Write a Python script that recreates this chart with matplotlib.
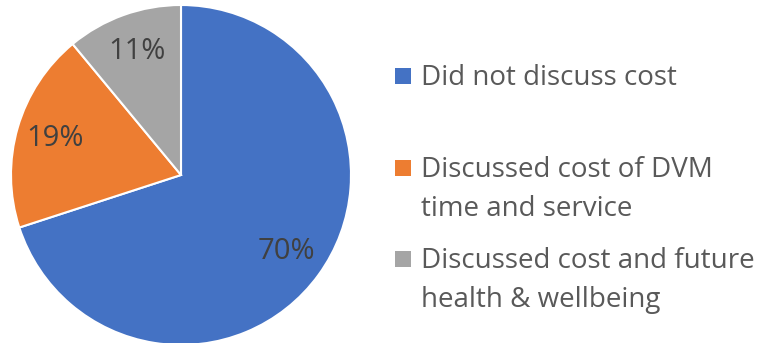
import matplotlib.pyplot as plt
from matplotlib.patches import Rectangle

labels = [['Did not discuss cost'],
          ['Discussed cost of DVM', 'time and service'],
          ['Discussed cost and future', 'health & wellbeing']]
shares = [70, 19, 11]
colors = ['#4472C4', '#ED7D31', '#A5A5A5']

plt.rcParams['font.family'] = ['Open Sans', 'DejaVu Sans']

fig = plt.figure(figsize=(7.57, 3.43), dpi=100)
W, H = 757, 343

# pie: centre (181, 175) px from top-left, radius 170 px
cx, cy, r = 181, 175, 170
ax = fig.add_axes([(cx - r) / W, (H - cy - r) / H, 2 * r / W, 2 * r / H])
ax.pie(shares, colors=colors, startangle=90, counterclock=False,
       autopct='%d%%', pctdistance=0.77,
       wedgeprops=dict(edgecolor='white', linewidth=1.5),
       textprops=dict(fontsize=21, color='#404040'))
ax.set_xlim(-1, 1)
ax.set_ylim(-1, 1)
ax.set_aspect('equal')

# legend entries (baseline of first line, px from top)
baselines = [85, 177, 268]
line_step = 39
for lines, col, yb in zip(labels, colors, baselines):
    yc = yb - 9
    fig.patches.append(Rectangle((395 / W, (H - yc - 8) / H), 16 / W, 16 / H,
                                 transform=fig.transFigure, facecolor=col,
                                 edgecolor='none'))
    for i, line in enumerate(lines):
        fig.text(421 / W, (H - yb - i * line_step) / H, line, fontsize=20,
                 color='#595959', va='baseline', ha='left')

fig.savefig('out.png', dpi=100)
